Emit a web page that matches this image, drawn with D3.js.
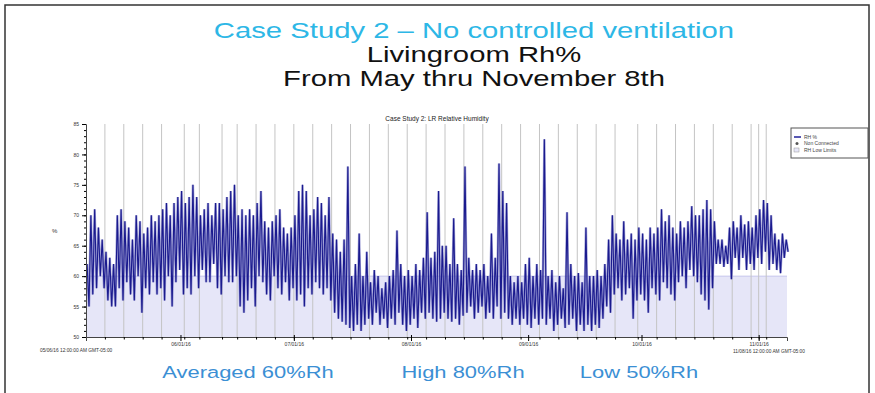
<!DOCTYPE html>
<html>
<head>
<meta charset="utf-8">
<script src="https://cdn.jsdelivr.net/npm/d3@7"></script>
<style>
  body { margin: 0; background: #fff; }
  svg { display: block; font-family: "Liberation Sans", Arial, sans-serif; }
</style>
</head>
<body>
<svg id="chart" width="875" height="393"></svg>
<script>
// daily high / low readings of living room RH %, from 05/07/16 (day 0) to 11/08/16 (day 185)
const rhHigh = [
  62, 70, 71, 68, 66, 64, 63, 62, 70, 71, 69, 68, 66, 70, 69, 67, 68, 70, 69, 70,
  71, 72, 70, 72, 73, 74, 72, 73, 75, 73, 70, 71, 72, 70, 72, 72, 71, 73, 74, 75,
  70, 71, 70, 71, 70, 72, 74, 69, 68, 69, 70, 71, 68, 67, 68, 70, 74, 75, 74, 70,
  71, 73, 72, 70, 73, 67, 66, 64, 66, 78, 60, 62, 67, 60, 64, 59, 61, 60, 58, 59,
  60, 61, 67.5, 62, 60, 61, 60, 62, 61, 63, 70.5, 63, 64, 74, 65, 65, 62, 69.5, 62, 61,
  78, 63, 61, 62, 61, 62, 60, 67, 63, 78.5, 74, 72, 60, 59, 60, 59, 62, 63, 60, 62,
  61, 82.5, 60, 61, 59, 60, 58, 70.5, 62, 60, 60.5, 59, 68, 60, 60, 61, 60, 62, 66, 70,
  67, 66, 69, 66, 67, 66, 68, 67, 66, 68, 67, 68, 71, 69, 70, 68, 67, 69, 68, 69,
  71.5, 70, 70, 71, 72.5, 71, 69, 66, 66, 65, 68, 69, 68, 70, 68.5, 69, 68, 70, 71, 72.5,
  72, 70, 67, 66, 67, 66
];
const rhLow = [
  55, 57, 58, 60, 58, 56, 55, 55, 58, 56, 59, 57, 56, 60, 54, 58, 57, 59, 57, 58,
  56, 60, 55, 59, 61, 57, 58, 57, 60, 58, 61, 59, 59, 62, 58, 57, 60, 59, 59, 60,
  55, 54, 56, 58, 55, 60, 59, 57, 56, 60, 58, 57, 59, 56, 58, 56, 57, 55, 58, 57,
  59, 58, 57, 58, 56, 54, 53, 52.5, 52, 51.5, 51, 52, 51, 52, 53, 52, 54, 52, 53, 51.5,
  53, 52, 54, 52, 51, 52, 53, 51.5, 54, 53, 54, 53, 52.5, 53, 54, 53, 52.5, 53, 52, 53.5,
  54, 55, 53, 54, 55, 53, 54, 53, 55, 53, 54, 53, 52, 53, 52, 53, 52, 51.5, 53, 52,
  53, 52, 53, 51, 52, 53, 51.5, 52, 53, 51, 52, 51, 52, 51, 52, 51.5, 53, 55, 54, 57,
  58, 56, 57, 58, 53, 56, 57, 56, 54, 58, 57, 56, 59, 58, 57, 56, 59, 60, 58, 61,
  60, 59, 57, 56, 54.5, 58, 62, 62, 61.5, 62, 59.5, 63, 61, 63, 61, 62, 61, 63, 62, 64,
  61, 62, 61, 60.5, 63, 64
];
const gridDates = [
  "2016-05-12", "2016-05-17", "2016-05-22", "2016-05-27", "2016-06-02", "2016-06-06",
  "2016-06-12", "2016-06-16", "2016-06-21", "2016-06-26", "2016-07-01", "2016-07-06",
  "2016-07-11", "2016-07-16", "2016-07-21", "2016-07-26", "2016-07-31", "2016-08-05",
  "2016-08-10", "2016-08-15", "2016-08-20", "2016-08-25", "2016-08-30", "2016-09-04",
  "2016-09-09", "2016-09-14", "2016-09-19", "2016-09-24", "2016-09-30", "2016-10-05",
  "2016-10-10", "2016-10-15", "2016-10-20", "2016-10-25", "2016-10-30", "2016-11-01",
  "2016-11-03"
];
const monthTicks = ["2016-06-01", "2016-07-01", "2016-08-01", "2016-09-01", "2016-10-01", "2016-11-01"];
const yTicks = [50, 55, 60, 65, 70, 75, 80, 85];
const lowLimit = [50, 60];
const summary = [
  { text: "Averaged 60%Rh", x: 248 },
  { text: "High 80%Rh", x: 463 },
  { text: "Low 50%Rh", x: 639 }
];
const legendItems = ["RH %", "Non Connected", "RH Low Limits"];

const parse = d3.timeParse("%Y-%m-%d");
const start = new Date(2016, 4, 7);
const svg = d3.select("#chart");

// slide frame
svg.append("rect").attr("x", 5).attr("y", 5).attr("width", 864).attr("height", 400)
  .attr("fill", "none").attr("stroke", "#333").attr("stroke-width", 1.5);

// slide headings (the slide is stretched horizontally)
const heads = [
  { t: "Case Study 2 \u2013 No controlled ventilation", y: 38, c: "#2db7e6" },
  { t: "Livingroom Rh%", y: 62, c: "#111" },
  { t: "From May thru November 8th", y: 86, c: "#111" }
];
heads.forEach(h => {
  svg.append("text")
    .attr("transform", `translate(474,${h.y}) scale(1.33,1)`)
    .attr("text-anchor", "middle").attr("font-size", 22).attr("fill", h.c)
    .text(h.t);
});

const x = d3.scaleTime().domain([start, new Date(2016, 10, 8, 12)]).range([86, 787]);
const y = d3.scaleLinear().domain([50, 85]).range([337, 124]);

svg.append("text").attr("x", 437).attr("y", 121).attr("text-anchor", "middle")
  .attr("font-size", 6.5).attr("fill", "#222").text("Case Study 2: LR Relative Humidity");

// low-limit band
svg.append("rect")
  .attr("x", x.range()[0]).attr("y", y(lowLimit[1]))
  .attr("width", x.range()[1] - x.range()[0]).attr("height", y(lowLimit[0]) - y(lowLimit[1]))
  .attr("fill", "#e6e6f8");
svg.append("line")
  .attr("x1", x.range()[0]).attr("x2", x.range()[1])
  .attr("y1", y(lowLimit[1])).attr("y2", y(lowLimit[1]))
  .attr("stroke", "#c6c6ec").attr("stroke-width", 1);

// non connected markers
svg.append("g").selectAll("line").data(gridDates).join("line")
  .attr("x1", d => x(parse(d))).attr("x2", d => x(parse(d)))
  .attr("y1", y(85)).attr("y2", y(50))
  .attr("stroke", "#c4c4c4").attr("stroke-width", 1);

// series
const pts = [];
rhHigh.forEach((v, i) => {
  pts.push({ t: d3.timeHour.offset(start, i * 24 + 7), v: v });
  pts.push({ t: d3.timeHour.offset(start, i * 24 + 19), v: rhLow[i] });
});
const line = d3.line().x(d => x(d.t)).y(d => y(d.v));
// soft halo, the source picture is a blurry scan
svg.append("path").datum(pts)
  .attr("fill", "none").attr("stroke", "#5a5ab8").attr("stroke-width", 2.4)
  .attr("stroke-opacity", 0.55).attr("d", line);
svg.append("path").datum(pts)
  .attr("fill", "none").attr("stroke", "#1a1a8e").attr("stroke-width", 1.1)
  .attr("d", line);

// y axis
const yAxis = svg.append("g").attr("transform", "translate(86,0)")
  .call(d3.axisLeft(y).tickValues(yTicks).tickSize(4).tickFormat(d3.format("d")));
svg.append("g").attr("transform", "translate(86,0)")
  .call(d3.axisLeft(y).tickValues(d3.range(50, 86)).tickSize(2).tickFormat(""))
  .select(".domain").remove();
yAxis.selectAll("text").attr("font-size", 5).attr("fill", "#333");
svg.append("text").attr("x", 52).attr("y", 233).attr("font-size", 6).attr("fill", "#333").text("%");

// x axis
const xAxis = svg.append("g").attr("transform", "translate(0,337)")
  .call(d3.axisBottom(x).tickValues(monthTicks.map(parse)).tickSize(4)
    .tickFormat(d3.timeFormat("%m/%d/%y")));
xAxis.selectAll(".tick line").attr("y1", -2);
xAxis.selectAll("text").attr("font-size", 5).attr("fill", "#333").attr("dy", "0.4em");
svg.append("g").attr("transform", "translate(0,337)")
  .call(d3.axisBottom(x).tickValues(gridDates.map(parse)).tickSize(2.5).tickFormat(""))
  .select(".domain").remove();
svg.selectAll(".domain").attr("stroke", "#444");

svg.append("text").attr("x", 40).attr("y", 352).attr("font-size", 4.8).attr("fill", "#333")
  .text("05/06/16 12:00:00 AM GMT-05:00");
svg.append("text").attr("x", 733).attr("y", 353).attr("font-size", 4.8).attr("fill", "#333")
  .text("11/08/16 12:00:00 AM GMT-05:00");

// legend
const lg = svg.append("g").attr("transform", "translate(791,128)");
lg.append("rect").attr("width", 77).attr("height", 30).attr("fill", "#fff")
  .attr("stroke", "#555").attr("stroke-width", 1);
legendItems.forEach((t, i) => {
  const ry = 9 + i * 6.5;
  if (i === 0) lg.append("line").attr("x1", 3).attr("x2", 10).attr("y1", ry).attr("y2", ry)
    .attr("stroke", "#20209a").attr("stroke-width", 1.5);
  if (i === 1) lg.append("circle").attr("cx", 6).attr("cy", ry).attr("r", 1.5).attr("fill", "#555");
  if (i === 2) lg.append("rect").attr("x", 3).attr("y", ry - 2).attr("width", 5).attr("height", 4)
    .attr("fill", "#e6e6f8").attr("stroke", "#999").attr("stroke-width", 0.5);
  lg.append("text").attr("x", 13).attr("y", ry + 1.8).attr("font-size", 5).attr("fill", "#444").text(t);
});

// summary line
summary.forEach(s => {
  svg.append("text")
    .attr("transform", `translate(${s.x},378) scale(1.33,1)`)
    .attr("text-anchor", "middle").attr("font-size", 16.5).attr("fill", "#3b8fd4")
    .text(s.text);
});
</script>
</body>
</html>
